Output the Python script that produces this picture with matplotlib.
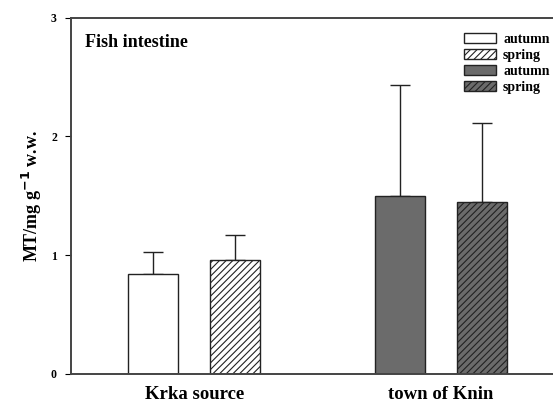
import matplotlib
matplotlib.use('Agg')
import matplotlib.pyplot as plt
import numpy as np

plt.rcParams['font.family'] = ['Liberation Serif', 'DejaVu Serif']
plt.rcParams['font.weight'] = 'bold'
plt.rcParams['hatch.linewidth'] = 0.8

# data
sites = ['Krka source', 'town of Knin']
seasons = ['autumn', 'spring', 'autumn', 'spring']
mt_mean = [0.84, 0.96, 1.50, 1.45]
mt_sd = [0.19, 0.21, 0.93, 0.66]

fig = plt.figure(figsize=(5.53, 4.05), dpi=100)
ax = fig.add_axes([0.128, 0.077, 0.872, 0.879])

grp = np.array([0, 0, 1, 1])
off = np.array([-0.166, 0.166, -0.166, 0.166])
x = grp + off
colors = ['white', 'white', '#6b6b6b', '#6b6b6b']
hatches = ['', '/////', '', '/////']

for i in range(4):
    ax.bar(x[i], mt_mean[i], width=0.203, color=colors[i], edgecolor='#222222',
           hatch=hatches[i], linewidth=1.0, label=seasons[i], zorder=2)
    ax.errorbar(x[i], mt_mean[i], yerr=[[0], [mt_sd[i]]], fmt='none',
                ecolor='#222222', elinewidth=1.0, capsize=7, capthick=1.0, zorder=1)

ax.set_xlim(-0.501, 1.454)
ax.set_ylim(0, 3)
ax.set_yticks([0, 1, 2, 3])
ax.set_xticks([0, 1])
ax.set_xticklabels(sites, fontsize=13.5, fontweight='bold')
ax.tick_params(axis='x', length=0, pad=9)
ax.tick_params(axis='y', direction='out', length=4, labelsize=8.5, pad=6)
for s in ['left', 'top', 'bottom']:
    ax.spines[s].set_color('#444444')
    ax.spines[s].set_linewidth(1.4)
ax.spines['right'].set_visible(False)

ax.set_ylabel('MT/mg g$^{\\mathbf{-1}}$ w.w.', fontsize=13, fontweight='bold', labelpad=5)
ax.text(0.03, 0.93, 'Fish intestine', transform=ax.transAxes, fontsize=13,
        fontweight='bold', va='center', ha='left')

leg = ax.legend(loc='upper right', bbox_to_anchor=(1.013, 0.985), frameon=False,
                fontsize=10, handlelength=2.3, handleheight=0.75, labelspacing=0.22,
                handletextpad=0.5, borderaxespad=0.3)

fig.savefig('out.png', dpi=100)
